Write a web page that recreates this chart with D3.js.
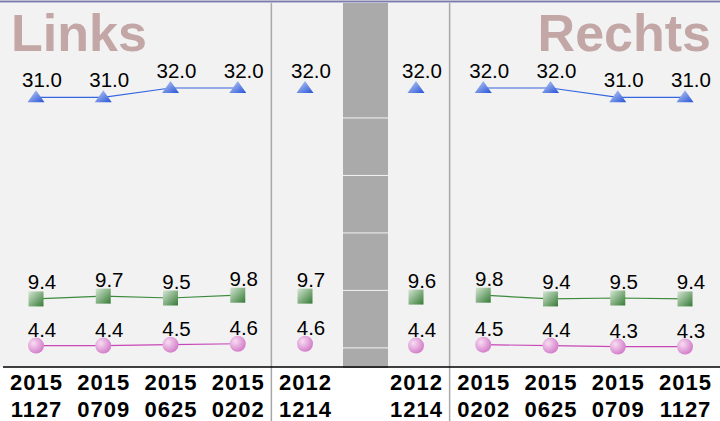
<!DOCTYPE html>
<html>
<head>
<meta charset="utf-8">
<script src="https://cdn.jsdelivr.net/npm/d3@7"></script>
<style>
  body { margin: 0; background: #fff; }
  svg { display: block; font-family: "Liberation Sans", Arial, sans-serif; }
</style>
</head>
<body>
<div id="chart"></div>
<script>
// dates per side; last of the left list and first of the right list are the 2012 reference
const leftDates = ["20151127", "20150709", "20150625", "20150202", "20121214"];
const rightDates = ["20121214", "20150202", "20150625", "20150709", "20151127"];
const panelTitles = ["Links", "Rechts"];

const triLeft = [31.0, 31.0, 32.0, 32.0, 32.0];
const triRight = [32.0, 32.0, 32.0, 31.0, 31.0];
const sqLeft = [9.4, 9.7, 9.5, 9.8, 9.7];
const sqRight = [9.6, 9.8, 9.4, 9.5, 9.4];
const cirLeft = [4.4, 4.4, 4.5, 4.6, 4.6];
const cirRight = [4.4, 4.5, 4.4, 4.3, 4.3];

// white divider ticks inside the grey break column
const breakTicks = [2, 3, 4, 5, 6];

const width = 720, height = 421;
const plotTop = 3, plotBottom = 367;

const svg = d3.select("#chart").append("svg")
  .attr("width", width)
  .attr("height", height);

const defs = svg.append("defs");
function linGrad(id, c0, c1) {
  const g = defs.append("linearGradient").attr("id", id)
    .attr("x1", "0%").attr("y1", "0%").attr("x2", "100%").attr("y2", "100%");
  g.append("stop").attr("offset", "0%").attr("stop-color", c0);
  g.append("stop").attr("offset", "100%").attr("stop-color", c1);
}
linGrad("gTri", "#c4d2f6", "#2452d6");
linGrad("gSq", "#d4e6d2", "#357a35");
const rg = defs.append("radialGradient").attr("id", "gCir")
  .attr("cx", "35%").attr("cy", "35%").attr("r", "70%");
rg.append("stop").attr("offset", "0%").attr("stop-color", "#f8dcf2");
rg.append("stop").attr("offset", "100%").attr("stop-color", "#d27ac8");

// scales
const xL = d3.scalePoint().domain(d3.range(leftDates.length)).range([36, 305]);
const xR = d3.scalePoint().domain(d3.range(rightDates.length)).range([416, 685]);
const y = d3.scaleLinear().domain([2, 38]).range([368, 32]);

// plot background
svg.append("rect")
  .attr("x", 0).attr("y", plotTop)
  .attr("width", width).attr("height", plotBottom - plotTop)
  .attr("fill", "#f2f2f2");

svg.append("line")
  .attr("x1", 0).attr("x2", width).attr("y1", 1.5).attr("y2", 1.5)
  .attr("stroke", "#7c7caa").attr("stroke-width", 2);

// titles
svg.append("text")
  .attr("x", 11).attr("y", 51)
  .attr("font-size", 52).attr("font-weight", "bold")
  .attr("fill", "#c3a6a6")
  .text(panelTitles[0]);
svg.append("text")
  .attr("x", 711).attr("y", 51)
  .attr("text-anchor", "end")
  .attr("font-size", 52).attr("font-weight", "bold")
  .attr("fill", "#c3a6a6")
  .text(panelTitles[1]);

// grey break column
const gapX0 = 343, gapX1 = 388;
const yBreak = d3.scaleLinear().domain([0, 6.35]).range([plotTop, 368]);
svg.append("rect")
  .attr("x", gapX0).attr("y", plotTop)
  .attr("width", gapX1 - gapX0).attr("height", 368 - plotTop)
  .attr("fill", "#aaaaaa");
svg.selectAll("line.break")
  .data(breakTicks)
  .enter()
  .append("line")
  .attr("class", "break")
  .attr("x1", gapX0).attr("x2", gapX1)
  .attr("y1", (d) => yBreak(d)).attr("y2", (d) => yBreak(d))
  .attr("stroke", "#f4f4f4").attr("stroke-width", 1);

// separators
const sepL = (xL(3) + xL(4)) / 2;
const sepR = (xR(0) + xR(1)) / 2;
[sepL, sepR].forEach((sx) => {
  svg.append("line")
    .attr("x1", sx).attr("x2", sx).attr("y1", plotTop).attr("y2", height)
    .attr("stroke", "#a8a8a8").attr("stroke-width", 1.5);
});

// baseline
svg.append("line")
  .attr("x1", 3).attr("x2", width).attr("y1", plotBottom).attr("y2", plotBottom)
  .attr("stroke", "#000").attr("stroke-width", 1.5);

const series = [
  { left: triLeft, right: triRight, color: "#3466e0", shape: "tri", dy: -10 },
  { left: sqLeft, right: sqRight, color: "#3d8a3d", shape: "sq", dy: -9.5 },
  { left: cirLeft, right: cirRight, color: "#c848b8", shape: "cir", dy: -9 },
];

function drawMarker(g, shape) {
  if (shape === "tri") {
    g.append("path").attr("d", "M0,-7L8.5,5L-8.5,5Z").attr("fill", "url(#gTri)");
  } else if (shape === "sq") {
    g.append("rect").attr("x", -7.5).attr("y", -7.5)
      .attr("width", 15).attr("height", 15).attr("fill", "url(#gSq)");
  } else {
    g.append("circle").attr("r", 8).attr("fill", "url(#gCir)");
  }
}

const line = d3.line().x((d) => d[0]).y((d) => y(d[1]));

series.forEach((s) => {
  const leftPts = s.left.map((v, i) => [xL(i), v]);
  const rightPts = s.right.map((v, i) => [xR(i), v]);
  // connect only the 2015 measurements
  svg.append("path")
    .datum(leftPts.slice(0, 4))
    .attr("d", line)
    .attr("fill", "none").attr("stroke", s.color).attr("stroke-width", 1.2);
  svg.append("path")
    .datum(rightPts.slice(1))
    .attr("d", line)
    .attr("fill", "none").attr("stroke", s.color).attr("stroke-width", 1.2);

  const pts = leftPts.concat(rightPts);
  const g = svg.selectAll(null)
    .data(pts)
    .enter()
    .append("g")
    .attr("transform", (d) => `translate(${d[0]}, ${y(d[1])})`);
  g.each(function () { drawMarker(d3.select(this), s.shape); });
  g.append("text")
    .attr("x", 6).attr("y", s.dy)
    .attr("text-anchor", "middle")
    .attr("font-size", 20.5)
    .attr("fill", "#000")
    .text((d) => d3.format(".1f")(d[1]));
});

// date labels
const dateLabels = leftDates.map((d, i) => [xL(i), d])
  .concat(rightDates.map((d, i) => [xR(i), d]));
const lab = svg.selectAll("text.date")
  .data(dateLabels)
  .enter()
  .append("text")
  .attr("class", "date")
  .attr("text-anchor", "middle")
  .attr("font-size", 22)
  .attr("font-weight", "bold")
  .attr("letter-spacing", 1)
  .attr("fill", "#000");
lab.append("tspan").attr("x", (d) => d[0] + 0.5).attr("y", 390).text((d) => d[1].slice(0, 4));
lab.append("tspan").attr("x", (d) => d[0] + 0.5).attr("y", 416.5).text((d) => d[1].slice(4));
</script>
</body>
</html>
